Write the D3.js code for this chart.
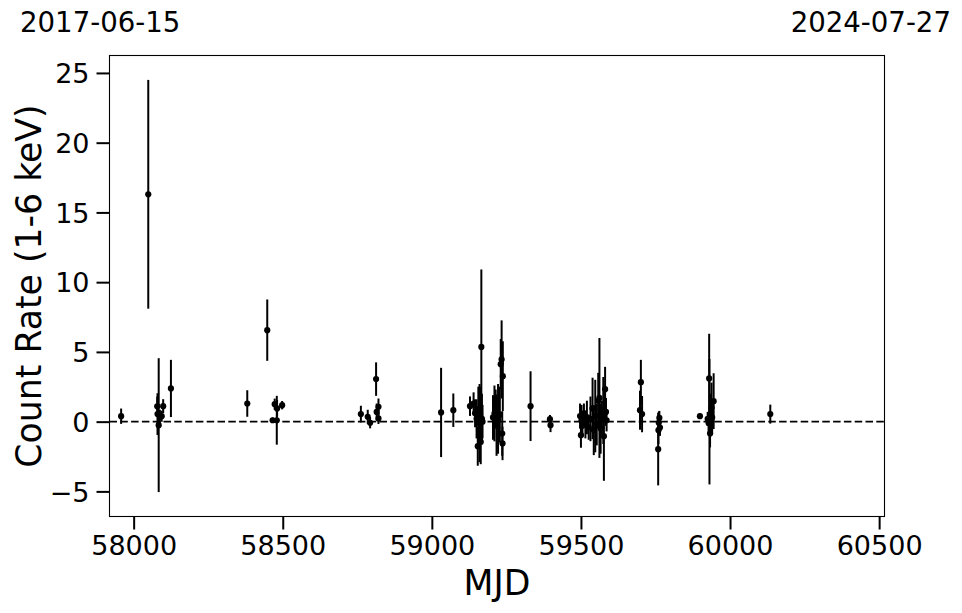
<!DOCTYPE html>
<html><head><meta charset="utf-8">
<script src="https://cdn.jsdelivr.net/npm/d3@7"></script>
<style>body{margin:0;background:#fff}svg{display:block}text{font-family:"DejaVu Sans",sans-serif;fill:#000}</style>
</head><body>
<script>
const mjd = [57958,58049,58079,58080,58084,58088,58094,58099,58125,58381,58448,58466,58480,58473,58481,58498,
58762,58785,58793,58813,58821,58815,58821,59031,59072,59128,
59140,59145,59150,59154,59156,59158,59160,59162,59164,59166,59168,59170,
59205,59210,59214,59217,59222,59228,59231,59234,59236,59237,59238,
59331,59396,59398,
59497,59500,59502,59505,59510,59515,59520,59526,59532,59539,59543,59548,59553,59558,59562,59566,59570,59575,59577,59581,59584,59586,
59698,59701,59705,59759,59760,59761,59763,59765,59899,
59925,59928,59930,59931,59933,59935,59938,59940,59945,60135];
const rate = [0.39,16.3,1.1,0.54,-0.25,0.35,0.39,1.11,2.38,1.3,6.56,0.1,0.1,1.25,0.95,1.18,
0.54,0.35,-0.08,3.05,1.06,0.7,0.23,0.66,0.82,1.11,
1.3,0.6,0.2,-1.76,0.9,0.3,-0.1,0.5,-1.45,5.36,0.2,0.0,
0.3,0.59,0.9,-0.25,0.2,0.5,4.12,4.46,-0.85,-1.56,3.26,
1.11,0.18,-0.25,
0.4,-0.97,0.1,-0.3,0.6,-0.2,0.3,-0.4,0.2,0.95,-0.6,0.4,-0.2,1.5,1.7,-0.5,0.3,0.8,-1.04,2.33,0.7,0.1,
0.82,2.83,0.54,-1.97,-0.61,-0.08,0.27,-0.42,0.39,
0.2,-0.1,3.1,0.0,-0.85,0.5,1.0,0.3,1.47,0.54];
const err = [0.55,8.2,0.7,1.5,4.8,0.5,0.4,0.5,2.05,0.95,2.2,0.2,1.75,0.4,0.6,0.3,
0.6,0.5,0.4,1.2,0.6,0.6,0.4,3.2,1.2,0.7,
0.8,1.0,1.4,1.4,1.6,2.2,2.8,2.0,1.6,5.55,1.8,1.2,
1.6,2.0,1.4,2.2,2.5,2.0,1.8,2.8,1.6,1.2,2.5,
2.5,0.3,0.5,
0.9,0.9,1.1,0.8,0.7,1.0,1.2,0.9,1.6,2.2,1.8,2.6,1.5,2.0,4.3,1.8,1.2,2.4,3.2,1.6,1.0,0.8,
1.4,1.6,1.3,2.6,1.0,0.8,0.5,0.6,0.2,
0.5,0.8,3.2,4.5,1.0,1.5,1.8,1.2,2.0,0.68];
const xTicks = [58000,58500,59000,59500,60000,60500];
const yTicks = [-5,0,5,10,15,20,25];
const dateLeft = "2017-06-15", dateRight = "2024-07-27";

const W=962,H=613, L=109.5, R=884.5, T=55.5, B=516.5;
const svg = d3.select("body").append("svg").attr("width",W).attr("height",H);
const x = d3.scaleLinear().domain([57919,60518]).range([L,R]);
const y = d3.scaleLinear().domain([-6.8,26.25]).range([B,T]);
const data = mjd.map((m,i)=>({m, r:rate[i], e:err[i]}));

svg.append("line").attr("x1",L).attr("x2",R).attr("y1",y(0)).attr("y2",y(0))
  .attr("stroke","#000").attr("stroke-width",1.6).attr("stroke-dasharray","7.5,3.3");

const g = svg.append("g");
g.selectAll("line.eb").data(data).join("line").attr("class","eb")
  .attr("x1",d=>x(d.m)).attr("x2",d=>x(d.m)).attr("y1",d=>y(d.r-d.e)).attr("y2",d=>y(d.r+d.e))
  .attr("stroke","#000").attr("stroke-width",2);
g.selectAll("circle").data(data).join("circle")
  .attr("cx",d=>x(d.m)).attr("cy",d=>y(d.r)).attr("r",3.1).attr("fill","#000");

svg.append("rect").attr("x",L).attr("y",T).attr("width",R-L).attr("height",B-T)
  .attr("fill","none").attr("stroke","#000").attr("stroke-width",1.1);

const xa = svg.append("g").attr("transform",`translate(0,${B})`)
  .call(d3.axisBottom(x).tickValues(xTicks).tickFormat(d3.format("d")).tickSize(13).tickPadding(6));
const ya = svg.append("g").attr("transform",`translate(${L},0)`)
  .call(d3.axisLeft(y).tickValues(yTicks).tickFormat(d=>d<0?"\u2212"+Math.abs(d):d).tickSize(13).tickPadding(7));
[xa,ya].forEach(a=>{a.select(".domain").remove();
  a.selectAll(".tick line").attr("stroke","#000").attr("stroke-width",2);
  a.selectAll("text").attr("font-size",27).attr("font-family","DejaVu Sans");});
ya.selectAll("text").attr("dy","0.36em");

svg.append("text").attr("x",(L+R)/2).attr("y",595).attr("text-anchor","middle").attr("font-size",34.7).text("MJD");
svg.append("text").attr("transform",`translate(41,${(T+B)/2}) rotate(-90)`).attr("text-anchor","middle")
  .attr("font-size",34.7).text("Count Rate (1-6 keV)");
svg.append("text").attr("x",20).attr("y",32).attr("font-size",27.6).text(dateLeft);
svg.append("text").attr("x",951).attr("y",32).attr("text-anchor","end").attr("font-size",27.6).text(dateRight);
</script>
</body></html>
